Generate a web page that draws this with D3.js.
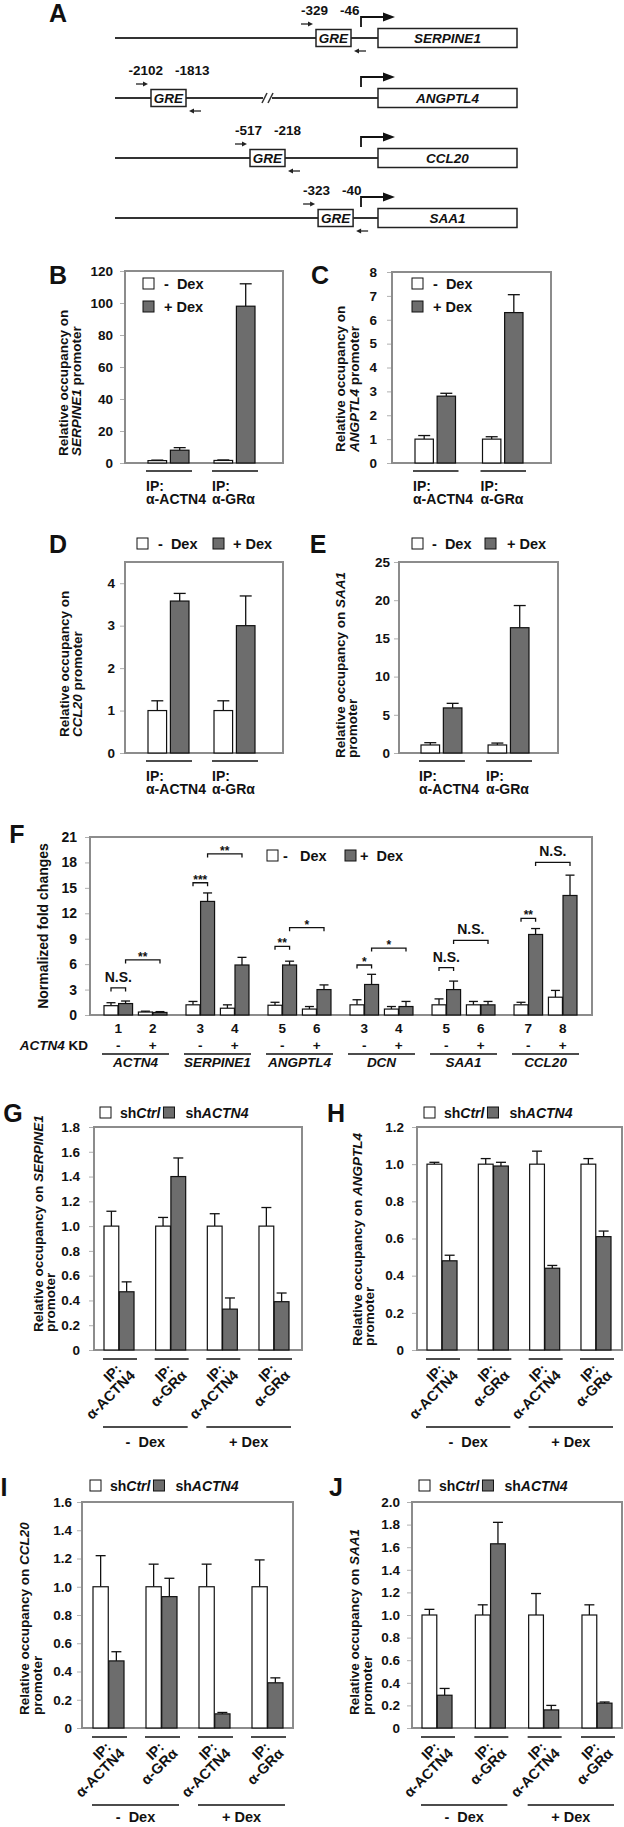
<!DOCTYPE html>
<html><head><meta charset="utf-8">
<script src="https://cdn.jsdelivr.net/npm/d3@7"></script>
<style>
body{margin:0;background:#fff;}
svg text{font-family:"Liberation Sans",Arial,Helvetica,sans-serif;font-weight:bold;fill:#111;white-space:pre;}
</style></head><body>
<script>
// ================= DATA =================
// Panel A: promoter schematics
const promoterGenes = ["SERPINE1","ANGPTL4","CCL20","SAA1"];
const greStart = [-329,-2102,-517,-323];
const greEnd   = [-46,-1813,-218,-40];

// Panels B–E: ChIP (IP groups) x Dex
const chipGroups = ["α-ACTN4","α-GRα"];
const dexLabels = ["-  Dex","+ Dex"];
const bMinus=[1.5,1.6],  bMinusErr=[0.3,0.3],  bPlus=[8.0,98.0], bPlusErr=[1.6,14.0];
const cMinus=[1.0,1.0],  cMinusErr=[0.15,0.1], cPlus=[2.8,6.3],  cPlusErr=[0.12,0.75];
const dMinus=[1.0,1.0],  dMinusErr=[0.23,0.23],dPlus=[3.58,3.0], dPlusErr=[0.18,0.7];
const eMinus=[1.05,1.05],eMinusErr=[0.3,0.25], ePlus=[5.9,16.4], ePlusErr=[0.6,2.9];
const bTicks=[0,20,40,60,80,100,120], cTicks=[0,1,2,3,4,5,6,7,8], dTicks=[0,1,2,3,4], eTicks=[0,5,10,15,20,25];

// Panel F: qPCR with ACTN4 knockdown
const fGenes = ["ACTN4","SERPINE1","ANGPTL4","DCN","SAA1","CCL20"];
const fLanes = ["1","2","3","4","5","6","3","4","5","6","7","8"];
const fKD    = ["-","+","-","+","-","+","-","+","-","+","-","+"];
const fMinus    = [1.1,0.35,1.2,0.8,1.15,0.7,1.2,0.7,1.2,1.2,1.2,2.1];
const fMinusErr = [0.35,0.1,0.4,0.4,0.35,0.3,0.6,0.3,0.7,0.4,0.3,0.8];
const fPlus     = [1.35,0.3,13.4,5.9,5.9,3.0,3.6,1.0,3.0,1.2,9.5,14.1];
const fPlusErr  = [0.3,0.1,1.0,0.9,0.45,0.55,1.2,0.6,1.0,0.4,0.7,2.4];
const fTicks = [0,3,6,9,12,15,18,21];
const fSigLabels = ["N.S.","**","***","**","**","*","*","*","N.S.","N.S.","**","N.S."];
const fSigFrom   = [[0,0],[0,1],[2,0],[2,1],[4,0],[4,1],[6,0],[6,1],[8,0],[8,1],[10,0],[10,1]];
const fSigTo     = [[0,1],[1,1],[2,1],[3,1],[4,1],[5,1],[6,1],[7,1],[8,1],[9,1],[10,1],[11,1]];
const fSigLevel  = [3.2,6.5,15.6,19.0,8.1,10.3,5.9,7.9,5.6,8.8,11.4,18.0];

// Panels G–J: shCtrl vs shACTN4
const ipGroups = ["α-ACTN4","α-GRα","α-ACTN4","α-GRα"];
const shLabels = ["shCtrl","shACTN4"];
const gCtrl=[1,1,1,1], gCtrlErr=[0.12,0.07,0.1,0.15], gSh=[0.47,1.40,0.33,0.39], gShErr=[0.08,0.15,0.09,0.07];
const hCtrl=[1,1,1,1], hCtrlErr=[0.01,0.03,0.07,0.03], hSh=[0.48,0.99,0.44,0.61], hShErr=[0.03,0.02,0.015,0.03];
const iCtrl=[1,1,1,1], iCtrlErr=[0.22,0.16,0.16,0.19], iSh=[0.475,0.93,0.10,0.32], iShErr=[0.065,0.13,0.01,0.035];
const jCtrl=[1,1,1,1], jCtrlErr=[0.05,0.09,0.19,0.09], jSh=[0.29,1.63,0.16,0.22], jShErr=[0.06,0.19,0.04,0.01];
const gTicks=[0,0.2,0.4,0.6,0.8,1.0,1.2,1.4,1.6,1.8], hTicks=[0,0.2,0.4,0.6,0.8,1.0,1.2],
      iTicks=[0,0.2,0.4,0.6,0.8,1.0,1.2,1.4,1.6], jTicks=[0,0.2,0.4,0.6,0.8,1.0,1.2,1.4,1.6,1.8,2.0];

// ================= STYLE =================
const GRAY="#6d6d6d", INK="#111", BOXC="#8c8c8c", WHITE="#fff";
const svg = d3.select("body").append("svg").attr("width",624).attr("height",1827).style("display","block");

function txt(parent,x,y,parts,o={}){
  const t=parent.append("text").attr("x",x).attr("y",y).attr("font-size",o.size||13).attr("text-anchor",o.anchor||"start");
  if(o.transform) t.attr("transform",o.transform);
  (typeof parts==="string"?[[parts,0]]:parts).forEach(([s,it])=>t.append("tspan").attr("font-style",it?"italic":"normal").text(s));
  return t;
}
function letter(x,y,s){ txt(svg,x,y,s,{size:25,anchor:"middle"}); }
function ytitle(lines,xs,bottom){
  lines.forEach((parts,i)=>txt(svg,0,0,parts,{size:13.5,transform:`translate(${xs[i]},${bottom}) rotate(-90)`}));
}
function swatch(x,y,fill){ svg.append("rect").attr("x",x).attr("y",y).attr("width",11).attr("height",11).attr("fill",fill).attr("stroke",INK).attr("stroke-width",1); }
const fmt1 = d=> d===0?"0":d3.format(".1f")(d);

function barPanel(p){
  const g=svg.append("g");
  const y=d3.scaleLinear().domain(p.dom).range([p.B,p.T]);
  const x0=d3.scaleBand().domain(d3.range(p.groups.length)).range(p.band).paddingInner(p.pi).paddingOuter(0);
  const x1=d3.scaleBand().domain(d3.range(p.series.length)).range([0,x0.bandwidth()]).paddingInner(p.innerPi);
  const ax=g.append("g").attr("transform",`translate(${p.L},0)`)
    .call(d3.axisLeft(y).tickValues(p.ticks).tickSize(5).tickPadding(p.gap-5).tickFormat(p.fmt||(d=>d)));
  ax.select(".domain").remove();
  ax.selectAll(".tick line").attr("stroke","#b0b0b0");
  ax.selectAll(".tick text").attr("font-size",13.5).attr("fill",INK);
  g.append("rect").attr("x",p.L).attr("y",p.T).attr("width",p.R-p.L).attr("height",p.B-p.T)
    .attr("fill","none").attr("stroke",BOXC).attr("stroke-width",2);
  p.series.forEach((s,si)=>{
    s.vals.forEach((v,gi)=>{
      const bx=x0(gi)+x1(si), bw=x1.bandwidth(), cx=bx+bw/2, et=y(v+s.errs[gi]);
      g.append("line").attr("x1",cx).attr("x2",cx).attr("y1",y(v)).attr("y2",et).attr("stroke",INK).attr("stroke-width",1.3);
      g.append("line").attr("x1",cx-p.cap/2).attr("x2",cx+p.cap/2).attr("y1",et).attr("y2",et).attr("stroke",INK).attr("stroke-width",1.3);
      g.append("rect").attr("x",bx).attr("y",y(v)).attr("width",bw).attr("height",y(0)-y(v))
        .attr("fill",s.fill).attr("stroke",INK).attr("stroke-width",1.2);
    });
  });
  return {x0,x1,y,g};
}
function ipLabelsFlat(P,B){
  chipGroups.forEach((lab,i)=>{
    const x=P.x0(i);
    svg.append("line").attr("x1",x-2).attr("x2",x+P.x0.bandwidth()+3).attr("y1",B+8).attr("y2",B+8).attr("stroke",INK).attr("stroke-width",1.5);
    txt(svg,x-2,B+28,"IP:",{size:14});
    txt(svg,x-2,B+41,lab,{size:14});
  });
}
function ipLabelsRot(P,B,dexBase){
  const ly=B+9, ly2=B+77;
  ipGroups.forEach((lab,i)=>{
    const x=P.x0(i), bw=P.x0.bandwidth(), cx=x+bw/2;
    svg.append("line").attr("x1",x-1).attr("x2",x+bw+3).attr("y1",ly).attr("y2",ly).attr("stroke",INK).attr("stroke-width",1.5);
    const t=svg.append("g").attr("transform",`translate(${cx+3.5},${ly+11}) rotate(-45)`);
    txt(t,0,0,"IP:",{anchor:"end",size:14.5});
    txt(t,5,14,lab,{anchor:"end",size:14.5});
  });
  [0,1].forEach(k=>{
    const xa=P.x0(2*k)-1, xb=P.x0(2*k+1)+P.x0.bandwidth()+2;
    svg.append("line").attr("x1",xa).attr("x2",xb).attr("y1",ly2).attr("y2",ly2).attr("stroke",INK).attr("stroke-width",1.5);
    txt(svg,(xa+xb)/2,dexBase,dexLabels[k],{anchor:"middle",size:14.5});
  });
}
function shLegend(x,y){
  swatch(x,y,WHITE);
  const t1=txt(svg,x+20,y+11,[["sh",0],["Ctrl",1]],{size:14});
  const e1=x+20+t1.node().getComputedTextLength();
  swatch(e1+3,y,GRAY);
  txt(svg,e1+25,y+11,[["sh",0],["ACTN4",1]],{size:14});
}

// ================= PANEL A =================
letter(58,22,"A");
const rowY=d3.scalePoint().domain(promoterGenes).range([38,218]);
const posX=d3.scaleLinear().domain([-2102,-517,-329,0]).range([151,250,316,431]);
const GRE_W=35, GENE_X0=378, GENE_X1=517, LINE_X0=115, TSS_X=361;
const A=svg.append("g");
promoterGenes.forEach((gn,i)=>{
  const y=rowY(gn), gx=posX(greStart[i]), gr=gx+GRE_W;
  A.append("line").attr("x1",LINE_X0).attr("x2",GENE_X0).attr("y1",y).attr("y2",y).attr("stroke","#333").attr("stroke-width",2);
  if(gn==="ANGPTL4"){
    A.append("rect").attr("x",263).attr("y",y-3).attr("width",9).attr("height",6).attr("fill","#fff");
    [262,268].forEach(sx=>A.append("line").attr("x1",sx).attr("y1",y+5).attr("x2",sx+5).attr("y2",y-5).attr("stroke","#333").attr("stroke-width",1.5));
  }
  A.append("rect").attr("x",gx).attr("y",y-8.5).attr("width",GRE_W).attr("height",17).attr("fill","#fff").attr("stroke","#222").attr("stroke-width",1.5);
  txt(A,gx+GRE_W/2,y+5,[["GRE",1]],{anchor:"middle",size:13.5});
  A.append("rect").attr("x",GENE_X0).attr("y",y-9.5).attr("width",GENE_X1-GENE_X0).attr("height",19).attr("fill","#fff").attr("stroke","#222").attr("stroke-width",1.5);
  txt(A,(GENE_X0+GENE_X1)/2,y+5,[[gn,1]],{anchor:"middle",size:13.5});
  A.append("path").attr("d",`M${TSS_X},${y-11}V${y-21}H${384}`).attr("fill","none").attr("stroke","#111").attr("stroke-width",1.8);
  A.append("path").attr("d",`M383,${y-25.5}L395,${y-21}L383,${y-16.5}Z`).attr("fill","#111");
  // primers
  A.append("line").attr("x1",gx-15).attr("x2",gx-7).attr("y1",y-14).attr("y2",y-14).attr("stroke","#222").attr("stroke-width",1.3);
  A.append("path").attr("d",`M${gx-8},${y-16.5}L${gx-3},${y-14}L${gx-8},${y-11.5}Z`).attr("fill","#222");
  A.append("line").attr("x1",gr+7).attr("x2",gr+15).attr("y1",y+13).attr("y2",y+13).attr("stroke","#222").attr("stroke-width",1.3);
  A.append("path").attr("d",`M${gr+8},${y+10.5}L${gr+3},${y+13}L${gr+8},${y+15.5}Z`).attr("fill","#222");
  txt(A,gx+12,y-23,String(greStart[i]),{anchor:"end",size:13.5});
  txt(A,gr-11,y-23,String(greEnd[i]),{anchor:"start",size:13.5});
});

// ================= PANEL B =================
letter(58,284,"B");
const PB=barPanel({L:125,R:283,T:271,B:463,dom:[0,120],ticks:bTicks,gap:12,groups:chipGroups,band:[148,255],pi:0.379,innerPi:0.17,cap:12,
  series:[{vals:bMinus,errs:bMinusErr,fill:WHITE},{vals:bPlus,errs:bPlusErr,fill:GRAY}]});
ipLabelsFlat(PB,463);
swatch(143,278,WHITE); txt(svg,164,289,dexLabels[0],{size:14.5});
swatch(143,301,GRAY);  txt(svg,164,312,dexLabels[1],{size:14.5});
ytitle([[["Relative occupancy on",0]],[["SERPINE1",1],[" promoter",0]]],[68,81],456);

// ================= PANEL C =================
letter(320,284,"C");
const PC=barPanel({L:392,R:551,T:272,B:463,dom:[0,8],ticks:cTicks,gap:15,groups:chipGroups,band:[415,523],pi:0.4,innerPi:0.17,cap:12,
  series:[{vals:cMinus,errs:cMinusErr,fill:WHITE},{vals:cPlus,errs:cPlusErr,fill:GRAY}]});
ipLabelsFlat(PC,463);
swatch(412,278,WHITE); txt(svg,433,289,dexLabels[0],{size:14.5});
swatch(412,301,GRAY);  txt(svg,433,312,dexLabels[1],{size:14.5});
ytitle([[["Relative occupancy on",0]],[["ANGPTL4",1],[" promoter",0]]],[345,359],452);

// ================= PANEL D =================
letter(58,553,"D");
const PD=barPanel({L:125,R:283,T:562,B:753,dom:[0,4.5],ticks:dTicks,gap:10,groups:chipGroups,band:[148,255],pi:0.379,innerPi:0.17,cap:12,
  series:[{vals:dMinus,errs:dMinusErr,fill:WHITE},{vals:dPlus,errs:dPlusErr,fill:GRAY}]});
ipLabelsFlat(PD,753);
swatch(137,538,WHITE); txt(svg,158,549,dexLabels[0],{size:14.5});
swatch(213,538,GRAY);  txt(svg,233,549,dexLabels[1],{size:14.5});
ytitle([[["Relative occupancy on",0]],[["CCL20",1],[" promoter",0]]],[69,82],737);

// ================= PANEL E =================
letter(318,553,"E");
const PE=barPanel({L:399,R:558,T:562,B:753,dom:[0,25],ticks:eTicks,gap:9,groups:chipGroups,band:[421,529],pi:0.39,innerPi:0.17,cap:12,
  series:[{vals:eMinus,errs:eMinusErr,fill:WHITE},{vals:ePlus,errs:ePlusErr,fill:GRAY}]});
ipLabelsFlat(PE,753);
swatch(412,538,WHITE); txt(svg,432,549,dexLabels[0],{size:14.5});
swatch(485,538,GRAY);  txt(svg,507,549,dexLabels[1],{size:14.5});
ytitle([[["Relative occupancy on ",0],["SAA1",1]],[["promoter",0]]],[345,357],758);

// ================= PANEL F =================
letter(17,843,"F");
{
  const L=90,R=592,T=837,B=1015;
  const fy=d3.scaleLinear().domain([0,21]).range([B,T]);
  const fx=d3.scaleBand().domain(fGenes).range([104,577]).paddingInner(0.232);
  const fp=d3.scaleBand().domain([0,1]).range([0,fx.bandwidth()]).paddingInner(0.17);
  const fb=d3.scaleBand().domain([0,1]).range([0,fp.bandwidth()]).paddingInner(0.04);
  const pairX=i=>fx(fGenes[Math.floor(i/2)])+fp(i%2);
  const barCx=(i,b)=>pairX(i)+fb(b)+fb.bandwidth()/2;
  const g=svg.append("g");
  const ax=g.append("g").attr("transform",`translate(${L},0)`).call(d3.axisLeft(fy).tickValues(fTicks).tickSize(5).tickPadding(8));
  ax.select(".domain").remove();
  ax.selectAll(".tick line").attr("stroke","#b0b0b0");
  ax.selectAll(".tick text").attr("font-size",14).attr("fill",INK);
  g.append("rect").attr("x",L).attr("y",T).attr("width",R-L).attr("height",B-T).attr("fill","none").attr("stroke",BOXC).attr("stroke-width",2);
  [[fMinus,fMinusErr,WHITE],[fPlus,fPlusErr,GRAY]].forEach(([vals,errs,fill],b)=>{
    vals.forEach((v,i)=>{
      const bx=pairX(i)+fb(b), bw=fb.bandwidth(), cx=bx+bw/2, et=fy(v+errs[i]);
      g.append("line").attr("x1",cx).attr("x2",cx).attr("y1",fy(v)).attr("y2",et).attr("stroke",INK).attr("stroke-width",1.3);
      g.append("line").attr("x1",cx-4.5).attr("x2",cx+4.5).attr("y1",et).attr("y2",et).attr("stroke",INK).attr("stroke-width",1.3);
      g.append("rect").attr("x",bx).attr("y",fy(v)).attr("width",bw).attr("height",B-fy(v)).attr("fill",fill).attr("stroke",INK).attr("stroke-width",1.2);
    });
  });
  // significance brackets
  fSigLabels.forEach((lab,k)=>{
    const xa=barCx(...fSigFrom[k]), xb=barCx(...fSigTo[k]), yy=fy(fSigLevel[k]);
    g.append("path").attr("d",`M${xa},${yy+3.5}V${yy}H${xb}V${yy+3.5}`).attr("fill","none").attr("stroke",INK).attr("stroke-width",1.3);
    if(lab==="N.S.") txt(g,(xa+xb)/2,yy-6,lab,{anchor:"middle",size:14});
    else txt(g,(xa+xb)/2,yy+1,lab,{anchor:"middle",size:12});
  });
  // legend
  swatch(267,850,WHITE); txt(svg,283,861,"-   Dex",{size:14.5});
  swatch(345,850,GRAY);  txt(svg,360,861,"+  Dex",{size:14.5});
  // below axis
  fLanes.forEach((s,i)=>{
    const cx=pairX(i)+fp.bandwidth()/2;
    txt(svg,cx,1033,s,{anchor:"middle",size:13.5});
    txt(svg,cx,1050,fKD[i],{anchor:"middle",size:13.5});
  });
  txt(svg,88,1050,[["ACTN4",1],[" KD",0]],{anchor:"end",size:13.5});
  fGenes.forEach(gn=>{
    const x=fx(gn);
    svg.append("line").attr("x1",x-2).attr("x2",x+fx.bandwidth()+2).attr("y1",1054).attr("y2",1054).attr("stroke",INK).attr("stroke-width",1.5);
    txt(svg,x+fx.bandwidth()/2,1067,[[gn,1]],{anchor:"middle",size:13.5});
  });
  txt(svg,0,0,"Normalized fold changes",{anchor:"middle",size:14,transform:`translate(48,${(T+B)/2}) rotate(-90)`});
}

// ================= PANEL G =================
letter(13,1122,"G");
const PG=barPanel({L:94,R:302,T:1127,B:1350,dom:[0,1.8],ticks:gTicks,fmt:fmt1,gap:14,groups:ipGroups,band:[104,289],pi:0.419,innerPi:0.03,cap:10,
  series:[{vals:gCtrl,errs:gCtrlErr,fill:WHITE},{vals:gSh,errs:gShErr,fill:GRAY}]});
ipLabelsRot(PG,1350,1447);
shLegend(100,1107);
ytitle([[["Relative occupancy on ",0],["SERPINE1",1]],[["promoter",0]]],[43,55],1332);

// ================= PANEL H =================
letter(336,1122,"H");
const PH=barPanel({L:417,R:622,T:1127,B:1350,dom:[0,1.2],ticks:hTicks,fmt:fmt1,gap:13,groups:ipGroups,band:[427,611],pi:0.415,innerPi:0.03,cap:10,
  series:[{vals:hCtrl,errs:hCtrlErr,fill:WHITE},{vals:hSh,errs:hShErr,fill:GRAY}]});
ipLabelsRot(PH,1350,1447);
shLegend(424,1107);
ytitle([[["Relative occupancy on ",0],["ANGPTL4",1]],[["promoter",0]]],[362,374],1346);

// ================= PANEL I =================
letter(4,1496,"I");
const PI=barPanel({L:82,R:293,T:1502,B:1728,dom:[0,1.6],ticks:iTicks,fmt:fmt1,gap:10,groups:ipGroups,band:[93,283],pi:0.415,innerPi:0.03,cap:10,
  series:[{vals:iCtrl,errs:iCtrlErr,fill:WHITE},{vals:iSh,errs:iShErr,fill:GRAY}]});
ipLabelsRot(PI,1728,1822);
shLegend(90,1480);
ytitle([[["Relative occupancy on ",0],["CCL20",1]],[["promoter",0]]],[29,42],1715);

// ================= PANEL J =================
letter(336,1496,"J");
const PJ=barPanel({L:412,R:622,T:1502,B:1728,dom:[0,2.0],ticks:jTicks,fmt:fmt1,gap:12,groups:ipGroups,band:[422,612],pi:0.437,innerPi:0.03,cap:10,
  series:[{vals:jCtrl,errs:jCtrlErr,fill:WHITE},{vals:jSh,errs:jShErr,fill:GRAY}]});
ipLabelsRot(PJ,1728,1822);
shLegend(419,1480);
ytitle([[["Relative occupancy on ",0],["SAA1",1]],[["promoter",0]]],[359,372],1715);
</script>
</body></html>
